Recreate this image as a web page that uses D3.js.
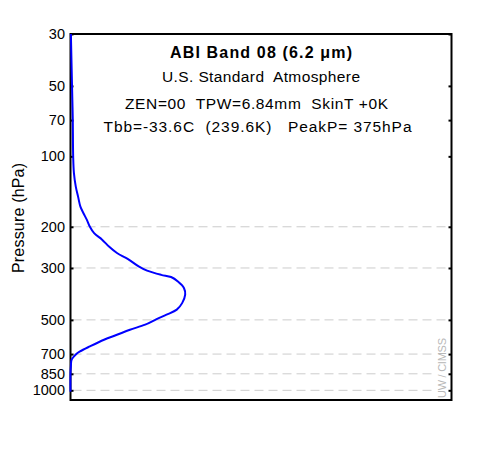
<!DOCTYPE html>
<html>
<head>
<meta charset="utf-8">
<script src="https://cdn.jsdelivr.net/npm/d3@7"></script>
<style>
  body { margin: 0; background: #fff; }
  text { font-family: "Liberation Sans", Arial, Helvetica, sans-serif; }
</style>
</head>
<body>
<svg id="wfChart"></svg>
<script>
// Data
const pressure = [30, 50, 70, 100, 118, 135, 149, 164, 175, 187, 200, 213, 227, 243, 259, 275, 296, 308, 321, 328,
                  343, 366, 390, 424, 452, 475, 496, 524, 551, 579, 608, 649, 682, 698, 740, 790, 843, 1013];
const weight = [0.001, 0.004, 0.006, 0.007, 0.009, 0.014, 0.020, 0.026, 0.034, 0.043, 0.051, 0.062, 0.083, 0.101,
                0.122, 0.151, 0.180, 0.201, 0.238, 0.264, 0.282, 0.298, 0.301, 0.293, 0.279, 0.252, 0.226, 0.196,
                0.156, 0.122, 0.088, 0.051, 0.025, 0.016, 0.003, 0.001, 0, 0];
const tickValues = [30, 50, 70, 100, 200, 300, 500, 700, 850, 1000];
const gridValues = [200, 300, 500, 700, 850, 1000];
const titleText = "ABI Band 08 (6.2 \u03bcm)";
const infoLines = ["U.S. Standard  Atmosphere", "ZEN=00  TPW=6.84mm  SkinT +0K", "Tbb=-33.6C  (239.6K)   PeakP= 375hPa"];

const data = pressure.map((p, i) => ({ p: p, w: weight[i] }));

// Set dimensions
const width = 500, height = 450;
const plotLeft = 70.5, plotRight = 451.5, plotTop = 34, plotBottom = 400;

const svg = d3.select("#wfChart")
    .attr("width", width)
    .attr("height", height);

// Scales
const xScale = d3.scaleLinear().domain([0, 1]).range([plotLeft, plotRight]);
const yScale = d3.scaleLog().domain([30, 1100]).range([plotTop, plotBottom]);

// Grid lines
svg.append("g").selectAll("line")
    .data(gridValues)
    .enter().append("line")
    .attr("x1", plotLeft + 2)
    .attr("x2", plotRight - 4)
    .attr("y1", d => yScale(d))
    .attr("y2", d => yScale(d))
    .attr("stroke", "#cccccc")
    .attr("stroke-width", 1)
    .attr("stroke-dasharray", "9,5");

// Watermark (white backing hides grid behind it)
svg.append("rect")
    .attr("x", 432).attr("y", 336)
    .attr("width", 17).attr("height", 63)
    .attr("fill", "#fff");
svg.append("text")
    .attr("transform", "translate(446,398) rotate(-90)")
    .style("font-size", "11px")
    .attr("fill", "#b8b8b8")
    .attr("textLength", 60)
    .text("UW / CIMSS");

// Axes
const yAxis = svg.append("g")
    .attr("transform", `translate(${plotLeft},0)`)
    .call(d3.axisLeft(yScale).tickValues(tickValues).tickFormat(d3.format("d"))
        .tickSize(-3).tickPadding(5.5));
yAxis.select(".domain").remove();
yAxis.selectAll("text").style("font-size", "14.5px").attr("fill", "#000")
    .style("font-family", "\"Liberation Sans\", Arial, sans-serif");
yAxis.selectAll("line").attr("stroke", "#000").attr("stroke-width", 2);

const yAxisR = svg.append("g")
    .attr("transform", `translate(${plotRight},0)`)
    .call(d3.axisRight(yScale).tickValues(tickValues).tickFormat("").tickSize(-3));
yAxisR.select(".domain").remove();
yAxisR.selectAll("line").attr("stroke", "#000").attr("stroke-width", 2);

// Frame
svg.append("rect")
    .attr("x", plotLeft).attr("y", plotTop)
    .attr("width", plotRight - plotLeft).attr("height", plotBottom - plotTop)
    .attr("fill", "none")
    .attr("stroke", "#000")
    .attr("stroke-width", 2);

// Y-axis label
svg.append("text")
    .attr("transform", "rotate(-90)")
    .attr("x", -218)
    .attr("y", 24)
    .attr("text-anchor", "middle")
    .attr("textLength", 110)
    .style("font-size", "16px")
    .text("Pressure (hPa)");

// Title and info text
svg.append("text")
    .attr("x", 170).attr("y", 57.5)
    .style("font-size", "16px")
    .style("font-weight", "bold")
    .attr("textLength", 182)
    .text(titleText);

const infoX = [162, 125, 103.5], infoY = [82, 108.5, 132], infoW = [198, 263, 308];
svg.selectAll(".info")
    .data(infoLines)
    .enter().append("text")
    .attr("class", "info")
    .attr("x", (d, i) => infoX[i])
    .attr("y", (d, i) => infoY[i])
    .attr("textLength", (d, i) => infoW[i])
    .style("font-size", "15.5px")
    .style("white-space", "pre")
    .text(d => d);

// Weighting function curve
const line = d3.line()
    .x(d => xScale(d.w))
    .y(d => yScale(d.p))
    .curve(d3.curveCatmullRom);

svg.append("path")
    .datum(data)
    .attr("fill", "none")
    .attr("stroke", "#0000ff")
    .attr("stroke-width", 2)
    .attr("d", line);
</script>
</body>
</html>
